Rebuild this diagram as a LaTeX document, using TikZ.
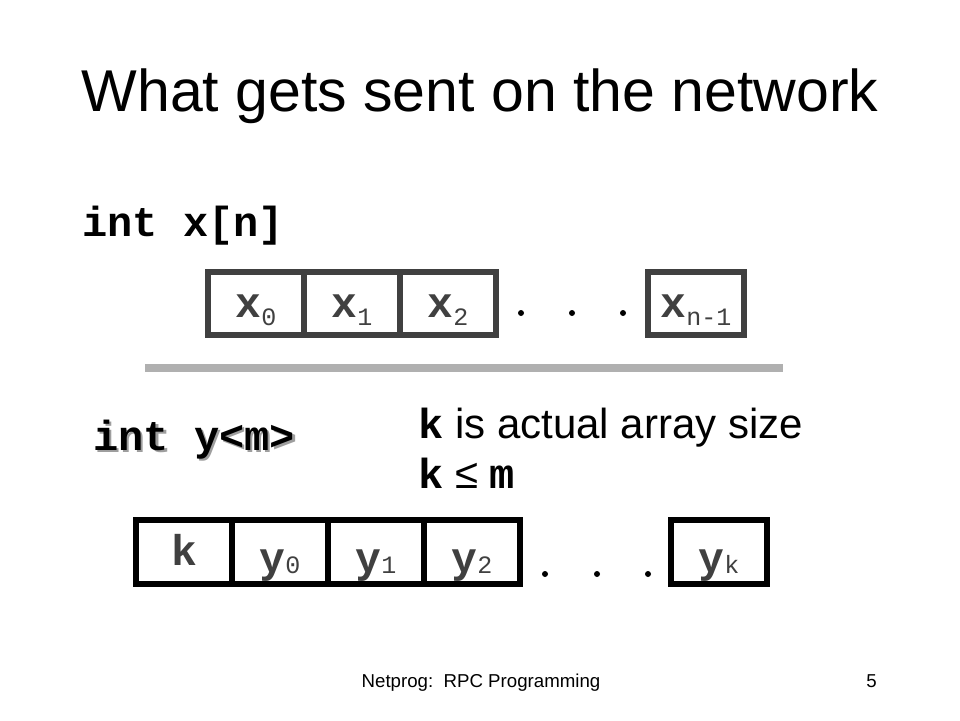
\documentclass[tikz,border=0pt]{standalone}
\usepackage{fontspec}
\setmainfont{Liberation Sans}
\setmonofont{Liberation Mono}
\definecolor{cellgray}{rgb}{0.25,0.25,0.25}
\definecolor{rulegray}{rgb}{0.69,0.69,0.69}
\definecolor{shadowgray}{rgb}{0.62,0.62,0.62}
\newcommand{\subidx}[2]{\raisebox{-#1}{\fontsize{25}{25}\selectfont\mdseries #2}}

\begin{document}
\begin{tikzpicture}[x=1pt,y=-1pt,
    xcell/.style={draw=cellgray, text=cellgray, line width=6pt, minimum width=96pt, minimum height=63.5pt,
        inner sep=0pt, text height=27pt, text depth=0pt, font=\fontsize{43}{43}\selectfont\ttfamily\bfseries},
    ycell/.style={draw=black, text=cellgray, line width=6pt, minimum width=96pt, minimum height=64pt,
        inner sep=0pt, text height=40pt, text depth=0pt, font=\fontsize{43}{43}\selectfont\ttfamily\bfseries},
    dot/.style={circle, fill=black, inner sep=0pt, minimum size=6pt},
    code/.style={anchor=base west, inner sep=0pt, font=\fontsize{42}{42}\selectfont\ttfamily\bfseries},
    plain/.style={inner sep=0pt, font=\fontsize{42}{42}\selectfont}]
            \path[use as bounding box, fill=white] (0,0) rectangle (960,720);

            % Title
            \node[anchor=base, inner sep=0pt, font=\fontsize{59}{59}\selectfont] (title) at (480,111) {What gets sent on the network};

            % Fixed array
            \node[code] (xdecl) at (82,236) {int x[n]};
            \node[xcell] (x0) at (256,303.5) {x\subidx{8pt}{0}};
            \node[xcell] (x1) at (352,303.5) {x\subidx{8pt}{1}};
            \node[xcell] (x2) at (448,303.5) {x\subidx{8pt}{2}};
            \node[dot] (xd1) at (521,313) {};
            \node[dot] (xd2) at (572,313) {};
            \node[dot] (xd3) at (623,313) {};
            \node[xcell] (xn) at (696,303.5) {x\subidx{8pt}{n-1}};

            % Separator
            \coordinate (ruleL) at (145,368);
            \coordinate (ruleR) at (783,368);
            \draw[rulegray, line width=8pt] (ruleL) -- (ruleR);

            % Variable array
            \node[code, text=shadowgray] (ydeclshadow) at (95.5,452.5) {int y<m>};
            \node[code] (ydecl) at (93,450) {int y<m>};
            \node[plain, anchor=base west] (ksize) at (418,438) {\texttt{\textbf{k}} is actual array size};
            \node[plain, anchor=base west] (kbound) at (418,488) {\texttt{\textbf{k}} ≤ \texttt{\textbf{m}}};

            \node[ycell, text height=26pt] (yk) at (184,552) {k};
            \node[ycell] (y0) at (280,552) {y\subidx{1pt}{0}};
            \node[ycell] (y1) at (376,552) {y\subidx{1pt}{1}};
            \node[ycell] (y2) at (472,552) {y\subidx{1pt}{2}};
            \node[dot] (yd1) at (545,574) {};
            \node[dot] (yd2) at (597,574) {};
            \node[dot] (yd3) at (648,574) {};
            \node[ycell] (yn) at (719,552) {y\subidx{1pt}{k}};

            % Footer
            \node[anchor=base, inner sep=0pt, font=\fontsize{18.67}{20}\selectfont] (footer) at (481,687) {Netprog:\ \ RPC Programming};
            \node[anchor=base east, inner sep=0pt, font=\fontsize{18.67}{20}\selectfont] (pagenum) at (877,687) {5};
        \end{tikzpicture}
\end{document}
